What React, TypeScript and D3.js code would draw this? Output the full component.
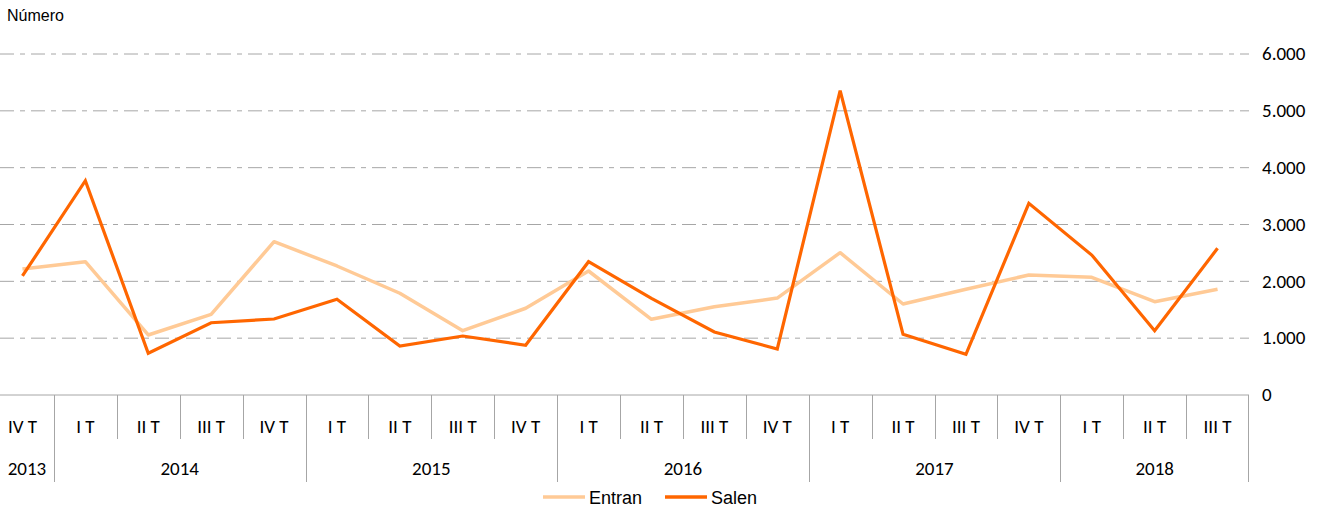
import React from "react";
import * as d3 from "d3";

const quarters = ["IV T","I T","II T","III T","IV T","I T","II T","III T","IV T","I T","II T","III T","IV T","I T","II T","III T","IV T","I T","II T","III T"];
const years = [
  { label: "2013", start: 0, end: 1 },
  { label: "2014", start: 1, end: 5 },
  { label: "2015", start: 5, end: 9 },
  { label: "2016", start: 9, end: 13 },
  { label: "2017", start: 13, end: 17 },
  { label: "2018", start: 17, end: 20 },
];
const entran = [2217,2346,1056,1420,2698,2270,1790,1131,1526,2182,1332,1554,1705,2504,1601,1860,2112,2071,1642,1860];
const salen = [2094,3771,734,1272,1337,1684,862,1038,875,2346,1701,1108,810,5355,1068,716,3373,2463,1132,2581];
const yTicks = [0,1000,2000,3000,4000,5000,6000];

const W = 1323, H = 508;
const catFont = "Carlito, Lato, 'Open Sans', sans-serif";
const arial = "'Liberation Sans', Arial, sans-serif";

export default function App() {
  const x = d3.scaleBand<number>().domain(d3.range(quarters.length)).range([-9, 1249]).padding(0);
  const y = d3.scaleLinear().domain([0, 6000]).range([395, 54]);
  const cx = (i: number) => (x(i) as number) + x.bandwidth() / 2;
  const line = d3.line<number>().x((_, i) => cx(i)).y((d) => y(d));
  const fmt = (v: number) => (v === 0 ? "0" : d3.format(",")(v).replace(/,/g, "."));
  const axisY = y(0);
  const xEnd = x.range()[1];

  return (
    <svg width={W} height={H} style={{ position: "absolute", left: 0, top: 0 }}>
      <rect width={W} height={H} fill="#fff" />
      <text x={7} y={20.5} fontFamily={arial} fontSize={16} fill="#000">Número</text>
      {yTicks.filter((t) => t > 0).map((t) => (
        <line key={t} x1={0} x2={xEnd} y1={y(t)} y2={y(t)} stroke="#a6a6a6" strokeWidth={1} strokeDasharray="14,6,5,6" />
      ))}
      {yTicks.map((t) => (
        <text key={"l" + t} x={1262} y={y(t)} dy="0.33em" fontFamily={catFont} fontSize={19} fill="#000">{fmt(t)}</text>
      ))}
      <path d={line(entran) || ""} fill="none" stroke="#FFCA96" strokeWidth={3.5} strokeLinejoin="round" />
      <path d={line(salen) || ""} fill="none" stroke="#FF6600" strokeWidth={3.2} strokeLinejoin="miter" />
      <line x1={x.range()[0]} x2={xEnd} y1={axisY} y2={axisY} stroke="#a6a6a6" strokeWidth={1} />
      {quarters.map((q, i) => (
        <g key={"q" + i}>
          <line x1={Math.round(x(i) as number) + 0.5} x2={Math.round(x(i) as number) + 0.5} y1={axisY} y2={439} stroke="#a6a6a6" />
          <text x={cx(i)} y={427} dy="0.33em" textAnchor="middle" fontFamily={catFont} fontSize={19} fill="#000">{q}</text>
        </g>
      ))}
      {years.map((yr) => {
        const x0 = x(yr.start) as number;
        const x1 = yr.end < quarters.length ? (x(yr.end) as number) : xEnd;
        return (
          <g key={yr.label}>
            <line x1={Math.round(x0) + 0.5} x2={Math.round(x0) + 0.5} y1={axisY} y2={482} stroke="#a6a6a6" />
            <text x={(Math.max(x0, 0) + x1) / 2} y={469} dy="0.33em" textAnchor="middle" fontFamily={catFont} fontSize={19} fill="#000">{yr.label}</text>
          </g>
        );
      })}
      <line x1={Math.round(xEnd) - 0.5} x2={Math.round(xEnd) - 0.5} y1={axisY} y2={482} stroke="#a6a6a6" />
      <g>
        <line x1={543} x2={585} y1={497} y2={497} stroke="#FFCA96" strokeWidth={3.5} />
        <text x={589} y={503.5} fontFamily={arial} fontSize={18} fill="#000">Entran</text>
        <line x1={665} x2={707} y1={497} y2={497} stroke="#FF6600" strokeWidth={3.5} />
        <text x={711} y={503.5} fontFamily={arial} fontSize={18} fill="#000">Salen</text>
      </g>
    </svg>
  );
}
